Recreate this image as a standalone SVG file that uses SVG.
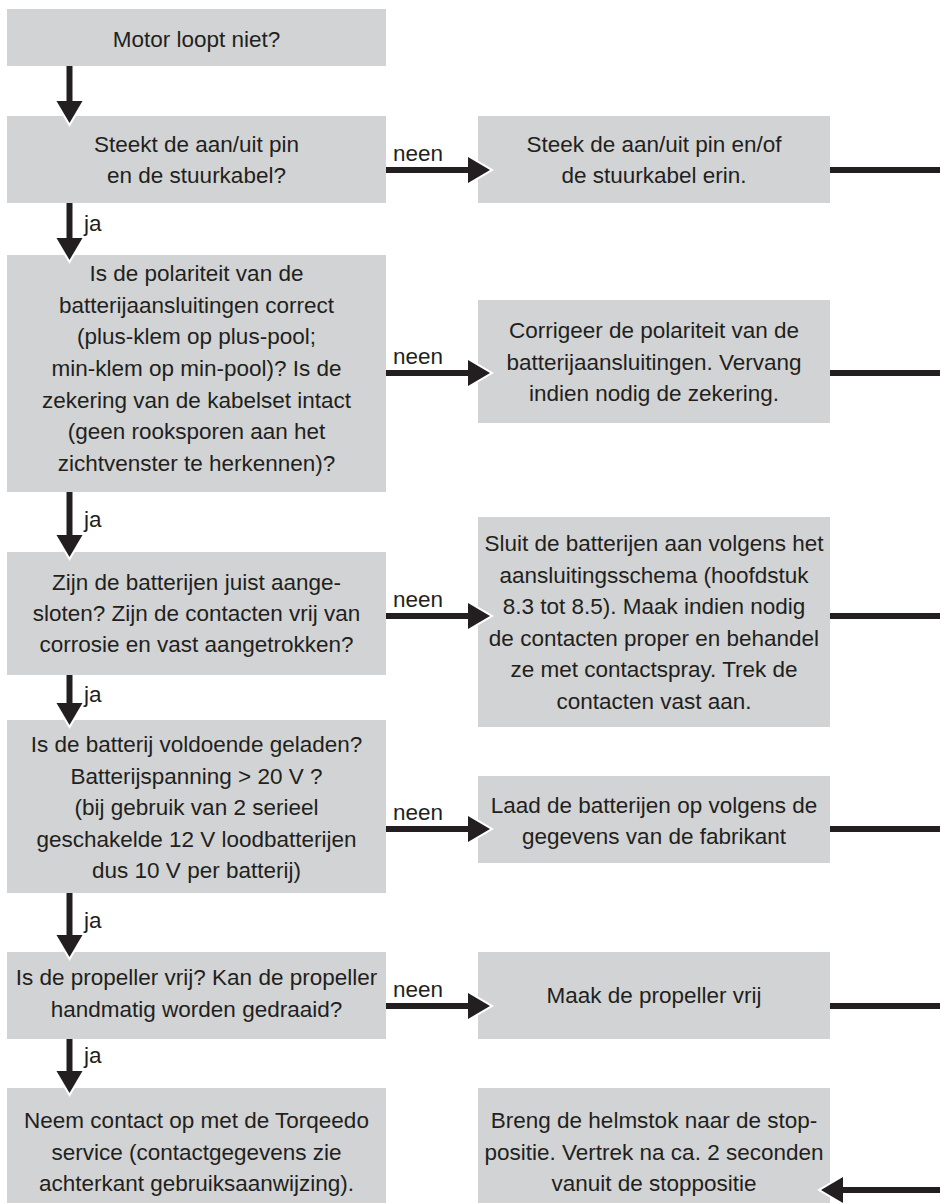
<svg xmlns="http://www.w3.org/2000/svg" width="940" height="1203" viewBox="0 0 940 1203">
<style>
.box{fill:#d1d3d4}
.t{font-family:"Liberation Sans",Arial,sans-serif;font-size:22.5px;fill:#231f20;text-anchor:middle}
.lbl{font-family:"Liberation Sans",Arial,sans-serif;font-size:22.5px;fill:#231f20}
.c{stroke:#231f20;stroke-width:6;fill:none;marker-end:url(#ah)}
.ln{stroke:#231f20;stroke-width:6;fill:none}
</style>
<defs>
<marker id="ah" markerUnits="userSpaceOnUse" viewBox="-4 -18 32 36" markerWidth="32" markerHeight="36" refX="0" refY="0" orient="auto" overflow="visible">
<path d="M0,-13 L22,0 L0,13" fill="none" stroke="#ffffff" stroke-width="4" stroke-miterlimit="10"/>
<path d="M0,-13 L22,0 L0,13 Z" fill="#231f20"/>
</marker>
</defs>
<rect width="940" height="1203" fill="#ffffff"/>

<g id="n1"><rect class="box" x="7" y="9" width="379" height="57"/>
<text class="t" x="196.5" y="47">Motor loopt niet?</text></g>

<g id="n2"><rect class="box" x="7" y="116" width="379" height="87"/>
<text class="t" x="196.5" y="152">Steekt de aan/uit pin</text>
<text class="t" x="196.5" y="183">en de stuurkabel?</text></g>

<g id="n3"><rect class="box" x="7" y="255" width="379" height="237"/>
<text class="t" x="196.5" y="281">Is de polariteit van de</text>
<text class="t" x="196.5" y="312.5">batterijaansluitingen correct</text>
<text class="t" x="196.5" y="344">(plus-klem op plus-pool;</text>
<text class="t" x="196.5" y="376">min-klem op min-pool)? Is de</text>
<text class="t" x="196.5" y="407.5">zekering van de kabelset intact</text>
<text class="t" x="196.5" y="439">(geen rooksporen aan het</text>
<text class="t" x="196.5" y="471">zichtvenster te herkennen)?</text></g>

<g id="n4"><rect class="box" x="7" y="552" width="379" height="123"/>
<text class="t" x="196.5" y="590">Zijn de batterijen juist aange-</text>
<text class="t" x="196.5" y="621">sloten? Zijn de contacten vrij van</text>
<text class="t" x="196.5" y="652">corrosie en vast aangetrokken?</text></g>

<g id="n5"><rect class="box" x="7" y="720" width="379" height="173"/>
<text class="t" x="196.5" y="752">Is de batterij voldoende geladen?</text>
<text class="t" x="196.5" y="783.5">Batterijspanning &gt; 20 V ?</text>
<text class="t" x="196.5" y="815">(bij gebruik van 2 serieel</text>
<text class="t" x="196.5" y="846.5">geschakelde 12 V loodbatterijen</text>
<text class="t" x="196.5" y="878">dus 10 V per batterij)</text></g>

<g id="n6"><rect class="box" x="7" y="952" width="379" height="87"/>
<text class="t" x="196.5" y="985">Is de propeller vrij? Kan de propeller</text>
<text class="t" x="196.5" y="1017">handmatig worden gedraaid?</text></g>

<g id="n7"><rect class="box" x="7" y="1088" width="379" height="115"/>
<text class="t" x="196.5" y="1128">Neem contact op met de Torqeedo</text>
<text class="t" x="196.5" y="1159.5">service (contactgegevens zie</text>
<text class="t" x="196.5" y="1191">achterkant gebruiksaanwijzing).</text></g>

<g id="r1"><rect class="box" x="478" y="116" width="352" height="87"/>
<text class="t" x="654" y="152">Steek de aan/uit pin en/of</text>
<text class="t" x="654" y="183">de stuurkabel erin.</text></g>

<g id="r2"><rect class="box" x="478" y="300" width="352" height="123"/>
<text class="t" x="654" y="338">Corrigeer de polariteit van de</text>
<text class="t" x="654" y="370">batterijaansluitingen. Vervang</text>
<text class="t" x="654" y="401">indien nodig de zekering.</text></g>

<g id="r3"><rect class="box" x="478" y="517" width="352" height="210"/>
<text class="t" x="654" y="551">Sluit de batterijen aan volgens het</text>
<text class="t" x="654" y="582.5">aansluitingsschema (hoofdstuk</text>
<text class="t" x="654" y="614">8.3 tot 8.5). Maak indien nodig</text>
<text class="t" x="654" y="645.5">de contacten proper en behandel</text>
<text class="t" x="654" y="677">ze met contactspray. Trek de</text>
<text class="t" x="654" y="708.5">contacten vast aan.</text></g>

<g id="r4"><rect class="box" x="478" y="776" width="352" height="87"/>
<text class="t" x="654" y="813">Laad de batterijen op volgens de</text>
<text class="t" x="654" y="844">gegevens van de fabrikant</text></g>

<g id="r5"><rect class="box" x="478" y="952" width="352" height="87"/>
<text class="t" x="654" y="1003">Maak de propeller vrij</text></g>

<g id="r6"><rect class="box" x="478" y="1088" width="352" height="115"/>
<text class="t" x="654" y="1128">Breng de helmstok naar de stop-</text>
<text class="t" x="654" y="1159.5">positie. Vertrek na ca. 2 seconden</text>
<text class="t" x="654" y="1191">vanuit de stoppositie</text></g>

<g id="connectors">
<path class="c" d="M69.5,66 V101"/>
<path class="c" d="M69.5,203 V238"/>
<path class="c" d="M69.5,492 V535"/>
<path class="c" d="M69.5,675 V703"/>
<path class="c" d="M69.5,893 V935"/>
<path class="c" d="M69.5,1039 V1071"/>
<path class="c" d="M386,170 H468"/>
<path class="c" d="M386,373 H468"/>
<path class="c" d="M386,616 H468"/>
<path class="c" d="M386,829 H468"/>
<path class="c" d="M386,1006 H468"/>
<path class="ln" d="M830,170 H940"/>
<path class="ln" d="M830,373 H940"/>
<path class="ln" d="M830,616 H940"/>
<path class="ln" d="M830,829 H940"/>
<path class="ln" d="M830,1006 H940"/>
<path class="c" d="M940,1190 H843"/>
<text class="lbl" x="84" y="231">ja</text>
<text class="lbl" x="84" y="527">ja</text>
<text class="lbl" x="84" y="702">ja</text>
<text class="lbl" x="84" y="928">ja</text>
<text class="lbl" x="84" y="1063">ja</text>
<text class="lbl" x="393" y="161">neen</text>
<text class="lbl" x="393" y="364">neen</text>
<text class="lbl" x="393" y="607">neen</text>
<text class="lbl" x="393" y="820">neen</text>
<text class="lbl" x="393" y="997">neen</text>
</g>
</svg>
